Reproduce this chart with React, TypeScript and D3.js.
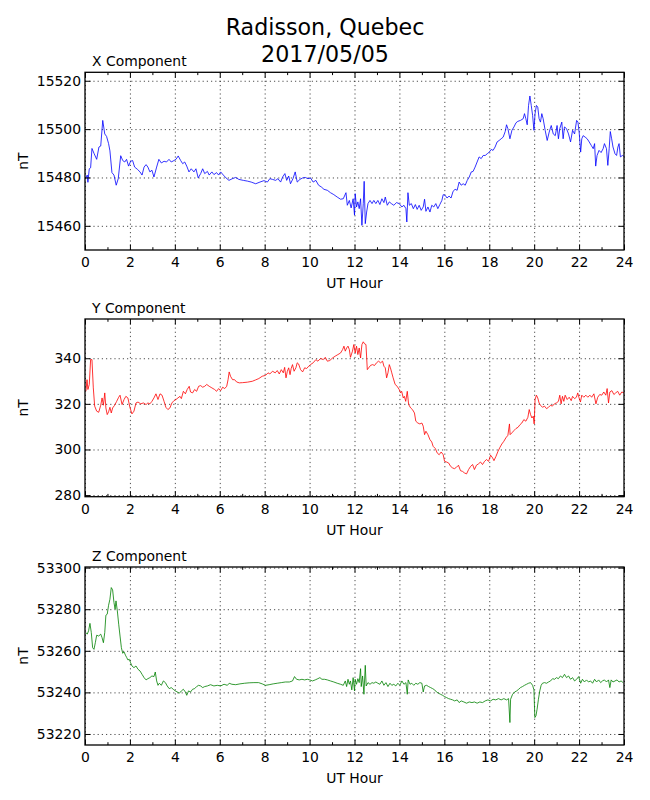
import React, { useRef, useEffect } from "react";
import {
  select,
  scaleLinear,
  line,
  axisBottom,
  axisLeft,
  axisTop,
  axisRight,
} from "d3";

type Pt = [number, number];

const titleLines = ["Radisson, Quebec", "2017/05/05"];
const hourTicks = [0, 2, 4, 6, 8, 10, 12, 14, 16, 18, 20, 22, 24];
const hourMinorTicks = [1, 3, 5, 7, 9, 11, 13, 15, 17, 19, 21, 23];

const xTicks = [15460, 15480, 15500, 15520];
const yTicks = [280, 300, 320, 340];
const zTicks = [53220, 53240, 53260, 53280, 53300];

const xDomain: Pt = [15450, 15523.5];
const yDomain: Pt = [279.3, 357.2];
const zDomain: Pt = [53214.7, 53300.3];

const xComp: Pt[] = [
  [0.03,15479.5],[0.1,15481],[0.13,15478],[0.19,15483.6],[0.25,15484],[0.31,15492],[0.4,15490],[0.52,15487.5],
  [0.62,15492.6],[0.7,15493],[0.79,15503.6],[0.88,15498],[0.96,15497],[1.05,15494],[1.11,15491],[1.2,15482],
  [1.29,15481],[1.39,15476.8],[1.48,15479.5],[1.59,15489],[1.68,15487],[1.77,15486.4],[1.85,15487.5],[1.94,15484.7],
  [2.03,15486.7],[2.12,15487],[2.21,15484.3],[2.33,15483.4],[2.45,15482.3],[2.54,15481],[2.63,15484.3],[2.72,15485.3],
  [2.8,15484.3],[2.89,15482.3],[2.98,15483],[3.07,15480.2],[3.19,15484.3],[3.29,15487.5],[3.4,15486],[3.52,15486.7],
  [3.63,15486.4],[3.74,15487.5],[3.84,15486.4],[3.96,15487],[4.05,15487.5],[4.15,15488.9],[4.26,15487],[4.35,15485.7],
  [4.44,15486.4],[4.53,15484.7],[4.63,15482.3],[4.73,15483.6],[4.85,15482.3],[4.94,15483.6],[5.04,15479.8],[5.15,15481.6],
  [5.24,15483.6],[5.33,15481.6],[5.45,15482.5],[5.53,15481],[5.65,15482.3],[5.74,15481.2],[5.86,15482],[5.95,15481],
  [6.04,15482.3],[6.16,15481],[6.28,15479.8],[6.41,15478.8],[6.56,15479.5],[6.71,15480],[6.85,15479.2],[7.05,15478.8],
  [7.23,15478.5],[7.4,15478.1],[7.6,15477.4],[7.79,15478.1],[7.97,15478.7],[8.12,15478.1],[8.23,15479.5],[8.35,15479.2],
  [8.49,15478.8],[8.59,15479.5],[8.71,15478.1],[8.8,15480.2],[8.9,15481.6],[8.98,15478.8],[9.07,15480.6],[9.15,15477.4],
  [9.26,15479.5],[9.36,15482.3],[9.45,15478.1],[9.57,15479.2],[9.69,15479.8],[9.81,15480],[9.93,15479.5],[10.04,15479.8],
  [10.16,15478.1],[10.28,15478.8],[10.4,15476.8],[10.52,15476.1],[10.64,15475.1],[10.79,15474.7],[10.93,15473.7],[11.08,15472.9],
  [11.23,15471.9],[11.38,15471],[11.5,15471.2],[11.62,15473.7],[11.68,15468.5],[11.77,15470.5],[11.85,15467.4],[11.94,15471.2],
  [12.0,15464.4],[12.03,15473.3],[12.09,15467.8],[12.15,15469.9],[12.21,15467.1],[12.27,15471.2],[12.33,15460.2],[12.39,15469.2],
  [12.43,15478.4],[12.48,15460.9],[12.54,15465.7],[12.6,15469.2],[12.69,15470.5],[12.78,15469.2],[12.86,15470.5],[12.95,15469.2],
  [13.04,15470.5],[13.13,15468.8],[13.22,15471.2],[13.31,15469.6],[13.37,15471.9],[13.46,15468.5],[13.55,15469.9],[13.64,15469.2],
  [13.75,15468.5],[13.87,15469.6],[13.99,15469.2],[14.11,15467.8],[14.2,15468.5],[14.29,15467.1],[14.33,15461.6],[14.38,15473.7],
  [14.44,15468.5],[14.53,15469.2],[14.62,15467.1],[14.71,15468.8],[14.79,15466.8],[14.88,15468.5],[14.97,15466.4],[15.06,15467.8],
  [15.12,15471],[15.18,15466],[15.27,15467.8],[15.36,15465.7],[15.44,15468.5],[15.53,15467.8],[15.62,15469.2],[15.71,15467.1],
  [15.8,15468.8],[15.89,15470.5],[15.95,15472.9],[16.04,15472.6],[16.12,15471.5],[16.21,15472.3],[16.3,15471.5],[16.39,15474.3],
  [16.48,15475.1],[16.57,15474.7],[16.66,15478.1],[16.75,15476.8],[16.84,15477.4],[16.93,15476.8],[17.02,15478.8],[17.11,15480.2],
  [17.2,15482.3],[17.28,15482.5],[17.37,15484.3],[17.46,15486.4],[17.55,15488.5],[17.64,15487.8],[17.73,15489.1],[17.82,15489.1],
  [17.91,15489.8],[18.0,15490.5],[18.09,15491.6],[18.17,15491.2],[18.26,15492.6],[18.35,15494.7],[18.44,15495.3],[18.53,15496],
  [18.62,15496.7],[18.71,15499],[18.77,15501.8],[18.83,15500.2],[18.92,15496],[19.01,15499.5],[19.1,15500.9],[19.19,15502.6],
  [19.27,15503.2],[19.39,15503.6],[19.51,15504.3],[19.57,15506.4],[19.63,15504.3],[19.69,15501.8],[19.75,15509.8],[19.81,15513.7],
  [19.87,15509.8],[19.93,15505.7],[19.99,15499.5],[20.04,15506.4],[20.1,15509.8],[20.16,15509.1],[20.22,15504.3],[20.28,15502.9],
  [20.34,15506.4],[20.4,15504.3],[20.49,15499.5],[20.58,15495.3],[20.67,15498.8],[20.76,15501.5],[20.85,15498],[20.94,15497.3],
  [21.02,15501.5],[21.08,15496],[21.14,15500.2],[21.23,15502.9],[21.29,15496],[21.35,15500.9],[21.44,15500.2],[21.53,15498],
  [21.62,15494.7],[21.71,15499.5],[21.8,15498],[21.89,15503.6],[21.95,15502.9],[22.01,15498],[22.07,15490.5],[22.12,15496],
  [22.18,15497.3],[22.27,15496.7],[22.36,15496],[22.45,15494.7],[22.54,15493.3],[22.63,15491.9],[22.69,15494],[22.74,15484.7],
  [22.8,15489.1],[22.89,15491.2],[22.98,15490.3],[23.07,15491.9],[23.13,15494],[23.22,15491.9],[23.28,15485],[23.34,15491.9],
  [23.39,15499],[23.45,15496],[23.51,15492.6],[23.6,15489.8],[23.67,15489.1],[23.73,15492.6],[23.78,15494],[23.84,15488.5],
  [23.93,15489.1],[24.0,15488.7],
];

const yComp: Pt[] = [
  [0.04,325.5],[0.09,330.6],[0.13,326.3],[0.19,328.5],[0.25,339.4],[0.31,339.4],[0.37,327],[0.43,319],
  [0.52,316.8],[0.61,316.3],[0.7,319.4],[0.76,322.6],[0.82,319.4],[0.88,324.8],[0.93,318.2],[0.99,315.3],
  [1.05,316.5],[1.11,318.5],[1.17,316],[1.23,318.2],[1.32,319.4],[1.41,321.1],[1.5,322.9],[1.56,323.8],
  [1.65,319.7],[1.74,321.9],[1.82,323.3],[1.91,322.6],[2.0,318.5],[2.09,315.6],[2.18,316.8],[2.27,320.4],
  [2.36,320.8],[2.48,320],[2.6,320.4],[2.72,319.7],[2.8,320.4],[2.89,320],[2.98,321.1],[3.07,322.6],
  [3.16,324.4],[3.25,321.9],[3.34,324.4],[3.43,323.8],[3.52,321.1],[3.6,318.5],[3.69,317.5],[3.78,318.2],
  [3.87,320.4],[3.96,321.4],[4.05,321.9],[4.14,322.6],[4.23,323.3],[4.29,322.3],[4.38,325.5],[4.47,324.4],
  [4.55,326.3],[4.64,327.7],[4.7,325.2],[4.79,324.8],[4.88,326.3],[4.97,325.5],[5.06,327.7],[5.15,328],
  [5.24,327.3],[5.33,327.7],[5.42,328.5],[5.53,327.7],[5.65,327],[5.77,326.3],[5.86,325.5],[5.95,326.7],
  [6.04,325.8],[6.13,327.3],[6.22,326.7],[6.31,327.7],[6.37,330.6],[6.42,334],[6.48,332.1],[6.57,330.6],
  [6.66,330.6],[6.75,329.6],[6.87,329.2],[7.02,329.3],[7.23,329.5],[7.45,329.9],[7.6,330.5],[7.74,331.1],
  [7.89,332.1],[8.04,332.5],[8.15,333.6],[8.23,333.1],[8.35,334.3],[8.47,333.6],[8.56,334.6],[8.65,333.1],
  [8.74,335],[8.83,333.6],[8.89,336],[8.95,331.4],[9.01,334.3],[9.07,335.8],[9.13,332.8],[9.18,335.5],
  [9.24,337.2],[9.31,334.3],[9.39,335.8],[9.45,338],[9.51,337.5],[9.6,335],[9.69,334],[9.78,335.8],
  [9.87,335.5],[9.96,336.5],[10.04,337.2],[10.16,338],[10.28,339.4],[10.37,338.7],[10.49,339.9],[10.61,339.4],
  [10.7,340.4],[10.79,338.7],[10.9,339],[11.02,340.1],[11.14,340.9],[11.26,341.6],[11.38,342.3],[11.47,343.8],
  [11.53,345.3],[11.59,343.1],[11.65,344.5],[11.71,345.3],[11.77,343.8],[11.82,340.4],[11.91,343.1],[11.97,346],
  [12.03,342.3],[12.09,345.3],[12.15,341.6],[12.21,344.5],[12.27,340.1],[12.33,346],[12.39,347.2],[12.45,346.3],
  [12.51,346],[12.57,335],[12.63,335.8],[12.72,336.9],[12.81,337.2],[12.89,336.8],[12.98,338],[13.07,338.7],
  [13.16,338],[13.25,338.7],[13.31,336.5],[13.37,335.8],[13.43,331.4],[13.49,333.6],[13.55,337.2],[13.6,335.8],
  [13.66,333.6],[13.72,331.4],[13.81,328.5],[13.9,327.7],[13.99,326.3],[14.05,324.8],[14.1,325.5],[14.17,322.6],
  [14.22,323.3],[14.28,321.1],[14.35,325.5],[14.41,319.7],[14.5,318.2],[14.58,317.5],[14.67,316],[14.73,312.4],
  [14.82,311.6],[14.91,311.2],[15.0,311.6],[15.06,310.2],[15.12,306.5],[15.18,308],[15.27,306.5],[15.36,304.3],
  [15.44,303.3],[15.5,301.4],[15.6,300.4],[15.68,298.5],[15.77,297.7],[15.86,298.9],[15.95,297.7],[16.01,294.8],
  [16.1,294.5],[16.19,294.1],[16.28,292.6],[16.37,291.9],[16.45,291.6],[16.54,292.2],[16.63,293.1],[16.72,290.7],
  [16.81,290.4],[16.9,289.7],[16.99,289.3],[17.08,291.2],[17.17,292.6],[17.26,293.4],[17.34,291.2],[17.43,293.1],
  [17.52,293.7],[17.61,294.5],[17.7,293.4],[17.79,294.8],[17.88,295.6],[17.97,294.8],[18.06,297.5],[18.15,296.3],
  [18.21,295.1],[18.3,297],[18.39,299.2],[18.48,301],[18.56,302.4],[18.65,303.6],[18.74,305.1],[18.83,306.2],
  [18.9,311.2],[18.93,306.5],[19.01,307.3],[19.1,308.3],[19.19,309.2],[19.28,309.7],[19.37,310.9],[19.45,311.6],
  [19.54,313.1],[19.63,312.4],[19.72,314.1],[19.78,317.5],[19.84,315.3],[19.9,313.8],[19.96,314.6],[20.0,311.2],
  [20.04,321.9],[20.1,323.8],[20.16,322.6],[20.22,320.4],[20.28,319.4],[20.37,318.5],[20.46,319],[20.55,317.9],
  [20.64,318.5],[20.73,319.4],[20.81,319],[20.9,320],[20.99,320.4],[21.08,321.1],[21.14,323.8],[21.2,320],
  [21.26,323.3],[21.32,321.1],[21.38,323.8],[21.47,321.9],[21.56,322.9],[21.65,321.4],[21.71,323.3],[21.8,322.3],
  [21.88,322.9],[21.94,324.8],[22.0,322.6],[22.06,320.8],[22.12,323.8],[22.21,322.9],[22.3,323.8],[22.39,322.9],
  [22.48,323.8],[22.56,322.9],[22.66,324.4],[22.75,320],[22.83,322.9],[22.92,324.1],[23.01,323.8],[23.1,325.2],
  [23.19,323.8],[23.25,326.7],[23.31,320.4],[23.37,325.2],[23.46,325.8],[23.55,324.1],[23.63,324.8],[23.72,325.5],
  [23.81,323.8],[23.9,325.2],[24.0,324.8],
];

const zComp: Pt[] = [
  [0.04,53268.8],[0.1,53268],[0.16,53269.6],[0.22,53273.2],[0.28,53268.8],[0.34,53261.5],[0.4,53260.7],[0.46,53263.9],
  [0.52,53267.5],[0.61,53267.1],[0.7,53268],[0.76,53266.3],[0.82,53263.9],[0.88,53268.8],[0.93,53277.1],[0.99,53277.6],
  [1.05,53281.9],[1.11,53284.8],[1.17,53290.4],[1.23,53289.3],[1.29,53283.2],[1.34,53280],[1.38,53284],[1.44,53279.2],
  [1.5,53272.8],[1.56,53267.1],[1.62,53261.5],[1.68,53258.8],[1.74,53259.5],[1.8,53257.9],[1.86,53256.7],[1.91,53255.6],
  [1.97,53255.9],[2.03,53254.3],[2.09,53252.7],[2.18,53251.9],[2.27,53252.7],[2.36,53251.1],[2.45,53250.3],[2.54,53248.7],
  [2.63,53247.1],[2.72,53246],[2.8,53246.6],[2.89,53247.1],[2.98,53247.9],[3.07,53247.6],[3.13,53249.8],[3.19,53245.5],
  [3.25,53243.4],[3.31,53244.4],[3.4,53243.4],[3.49,53245.5],[3.58,53244.7],[3.66,53243.1],[3.75,53241.8],[3.84,53242.3],
  [3.93,53241.5],[4.02,53240.7],[4.11,53240.2],[4.2,53239.6],[4.29,53240.7],[4.38,53241.5],[4.47,53240.2],[4.53,53238.6],
  [4.61,53240.7],[4.7,53240.2],[4.79,53241.5],[4.88,53241.8],[4.97,53242.8],[5.06,53243.4],[5.15,53243.1],[5.24,53242.3],
  [5.33,53242.8],[5.45,53243.1],[5.59,53243.7],[5.74,53243.1],[5.89,53243.4],[6.04,53243.1],[6.19,53243.9],[6.34,53243.4],
  [6.42,53244.4],[6.54,53243.9],[6.71,53243.7],[6.9,53244.1],[7.11,53244.4],[7.31,53244.6],[7.52,53244.7],[7.73,53244.7],
  [7.89,53244.1],[8.04,53243.4],[8.2,53243.7],[8.38,53244.1],[8.56,53244.4],[8.74,53244.7],[8.92,53245],[9.1,53245],
  [9.24,53245.5],[9.33,53247.6],[9.42,53246.3],[9.54,53246],[9.66,53246.3],[9.78,53246],[9.9,53246.3],[10.01,53246],
  [10.13,53245.5],[10.25,53246],[10.37,53246.6],[10.46,53247.1],[10.55,53246.3],[10.67,53246.3],[10.79,53246],[10.93,53245.5],
  [11.08,53245],[11.23,53244.4],[11.38,53243.9],[11.5,53243.4],[11.59,53245.5],[11.65,53242.8],[11.71,53246.3],[11.77,53243.9],
  [11.82,53245.5],[11.88,53241.2],[11.94,53247.1],[12.0,53240.7],[12.03,53246.3],[12.09,53243.9],[12.15,53246.6],[12.21,53244.7],
  [12.27,53251.4],[12.3,53242.8],[12.36,53247.9],[12.42,53239.1],[12.48,53253],[12.52,53243.1],[12.6,53244.7],[12.69,53243.9],
  [12.78,53244.7],[12.86,53244.4],[12.95,53245],[13.04,53244.4],[13.13,53243.9],[13.22,53245.5],[13.31,53243.4],[13.4,53244.7],
  [13.49,53242.8],[13.58,53244.4],[13.66,53243.4],[13.75,53243.9],[13.84,53243.1],[13.93,53244.4],[14.02,53243.4],[14.11,53245.5],
  [14.2,53243.9],[14.29,53244.7],[14.35,53239.1],[14.39,53246],[14.47,53243.9],[14.55,53244.4],[14.64,53243.4],[14.73,53244.4],
  [14.82,53243.9],[14.91,53244.7],[15.0,53244.4],[15.06,53240.2],[15.12,53243.1],[15.21,53243.4],[15.3,53242.8],[15.39,53242.3],
  [15.48,53241.8],[15.57,53241.2],[15.65,53240.2],[15.74,53239.6],[15.83,53239.1],[15.92,53238.6],[16.01,53238],[16.1,53237.5],
  [16.19,53237],[16.28,53236.7],[16.37,53236.4],[16.46,53235.9],[16.57,53236.4],[16.66,53235.1],[16.75,53235.9],[16.87,53235.4],
  [16.99,53234.8],[17.11,53235.4],[17.23,53235.1],[17.34,53235.4],[17.46,53234.8],[17.58,53235.4],[17.7,53235.1],[17.82,53235.9],
  [17.94,53236.4],[18.06,53235.9],[18.17,53236.7],[18.29,53236.4],[18.41,53237],[18.53,53236.4],[18.65,53237],[18.77,53236.4],
  [18.86,53237],[18.92,53225.5],[18.95,53236.7],[19.04,53239.1],[19.13,53240.2],[19.22,53240.7],[19.31,53241.5],[19.39,53242.3],
  [19.48,53242.8],[19.57,53243.4],[19.66,53243.9],[19.75,53244.4],[19.84,53244.7],[19.93,53243.4],[19.99,53241.2],[20.03,53227.9],
  [20.08,53228.7],[20.13,53231.9],[20.19,53236.7],[20.25,53240.7],[20.31,53243.4],[20.37,53244.4],[20.46,53244.7],[20.55,53244.4],
  [20.64,53245],[20.73,53245.5],[20.82,53246.6],[20.91,53246.3],[20.99,53247.1],[21.08,53246.6],[21.17,53247.9],[21.26,53247.1],
  [21.35,53248.7],[21.44,53247.1],[21.53,53247.9],[21.62,53246.3],[21.71,53247.1],[21.8,53245.5],[21.89,53246.3],[21.98,53247.6],
  [22.07,53244.4],[22.15,53246.3],[22.24,53245],[22.33,53246],[22.42,53245],[22.51,53245.5],[22.6,53244.4],[22.69,53246.3],
  [22.78,53245],[22.87,53246],[22.96,53244.7],[23.04,53245.5],[23.13,53246],[23.22,53245],[23.31,53246],[23.37,53242.3],
  [23.43,53246],[23.51,53245],[23.6,53245.5],[23.69,53246],[23.78,53245],[23.87,53245.5],[23.96,53244.7],
];

const panels = [
  { title: "X Component", data: xComp, domain: xDomain, ticks: xTicks, color: "#0000ff", top: 72.3, bottom: 250 },
  { title: "Y Component", data: yComp, domain: yDomain, ticks: yTicks, color: "#ff0000", top: 319, bottom: 496.7 },
  { title: "Z Component", data: zComp, domain: zDomain, ticks: zTicks, color: "#008000", top: 567, bottom: 745 },
];

const W = 650;
const H = 800;
const left = 85;
const right = 624;
const font = "'DejaVu Sans', sans-serif";
const fs = 13.9;

const App: React.FC = () => {
  const svgRef = useRef<SVGSVGElement>(null);

  useEffect(() => {
    const svg = select(svgRef.current);
    svg.selectAll("*").remove();
    svg.append("rect").attr("width", W).attr("height", H).attr("fill", "#fff");

    svg
      .append("text")
      .attr("x", W / 2)
      .attr("text-anchor", "middle")
      .attr("font-family", font)
      .attr("font-size", 22.2)
      .selectAll("tspan")
      .data(titleLines)
      .join("tspan")
      .attr("x", W / 2)
      .attr("y", (_, i) => 35 + i * 26.6)
      .text((d) => d);

    const x = scaleLinear().domain([0, 24]).range([left, right]);

    panels.forEach((p) => {
      const h = p.bottom - p.top;
      const y = scaleLinear().domain(p.domain).range([p.bottom, p.top]);
      const g = svg.append("g");

      // grid
      g.append("g")
        .attr("transform", `translate(0,${p.bottom})`)
        .call(axisBottom(x).tickValues(hourTicks).tickSize(-h).tickSizeOuter(0).tickFormat(() => ""));
      g.append("g")
        .attr("transform", `translate(${left},0)`)
        .call(axisLeft(y).tickValues(p.ticks).tickSize(-(right - left)).tickSizeOuter(0).tickFormat(() => ""));
      g.selectAll(".domain").remove();
      g.selectAll("line")
        .attr("stroke", "#000")
        .attr("stroke-width", 0.7)
        .attr("stroke-dasharray", "1.2,3");

      // data
      const path = line<Pt>()
        .x((d) => x(d[0]))
        .y((d) => y(d[1]));
      svg
        .append("path")
        .datum(p.data)
        .attr("d", path)
        .attr("fill", "none")
        .attr("stroke", p.color)
        .attr("stroke-width", 0.8)
        .attr("stroke-linejoin", "round");

      // axes, ticks inward
      const ax = svg.append("g").attr("font-family", font);
      const bottomAx = ax
        .append("g")
        .attr("transform", `translate(0,${p.bottom})`)
        .call(axisBottom(x).tickValues(hourTicks).tickSize(-5.5).tickSizeOuter(0).tickPadding(7));
      ax.append("g")
        .attr("transform", `translate(0,${p.bottom})`)
        .call(axisBottom(x).tickValues(hourMinorTicks).tickSize(-2.8).tickSizeOuter(0).tickFormat(() => ""));
      ax.append("g")
        .attr("transform", `translate(0,${p.top})`)
        .call(axisTop(x).tickValues(hourTicks).tickSize(-5.5).tickSizeOuter(0).tickFormat(() => ""));
      ax.append("g")
        .attr("transform", `translate(0,${p.top})`)
        .call(axisTop(x).tickValues(hourMinorTicks).tickSize(-2.8).tickSizeOuter(0).tickFormat(() => ""));
      const leftAx = ax
        .append("g")
        .attr("transform", `translate(${left},0)`)
        .call(axisLeft(y).tickValues(p.ticks).tickSize(-5.5).tickSizeOuter(0).tickPadding(4).tickFormat((d) => String(d)));
      ax.append("g")
        .attr("transform", `translate(${right},0)`)
        .call(axisRight(y).tickValues(p.ticks).tickSize(-5.5).tickSizeOuter(0).tickFormat(() => ""));
      ax.selectAll(".domain").remove();
      ax.selectAll("line").attr("stroke", "#000").attr("stroke-width", 1);
      [bottomAx, leftAx].forEach((a) =>
        a.selectAll("text").attr("font-size", fs).attr("fill", "#000").attr("font-family", font)
      );

      // frame
      svg
        .append("rect")
        .attr("x", left)
        .attr("y", p.top)
        .attr("width", right - left)
        .attr("height", h)
        .attr("fill", "none")
        .attr("stroke", "#000")
        .attr("stroke-width", 1.3);

      const labels = svg.append("g").attr("font-family", font).attr("font-size", fs).attr("fill", "#000");
      labels
        .append("text")
        .attr("x", 92)
        .attr("y", p.top - 6.5)
        .text(p.title);
      labels
        .append("text")
        .attr("x", (left + right) / 2)
        .attr("y", p.bottom + 38)
        .attr("text-anchor", "middle")
        .text("UT Hour");
      labels
        .append("text")
        .attr("transform", `translate(28,${(p.top + p.bottom) / 2}) rotate(-90)`)
        .attr("text-anchor", "middle")
        .text("nT");
    });
  }, []);

  return (
    <svg
      ref={svgRef}
      width={W}
      height={H}
      style={{ position: "absolute", left: 0, top: 0, display: "block" }}
    ></svg>
  );
};

export default App;
